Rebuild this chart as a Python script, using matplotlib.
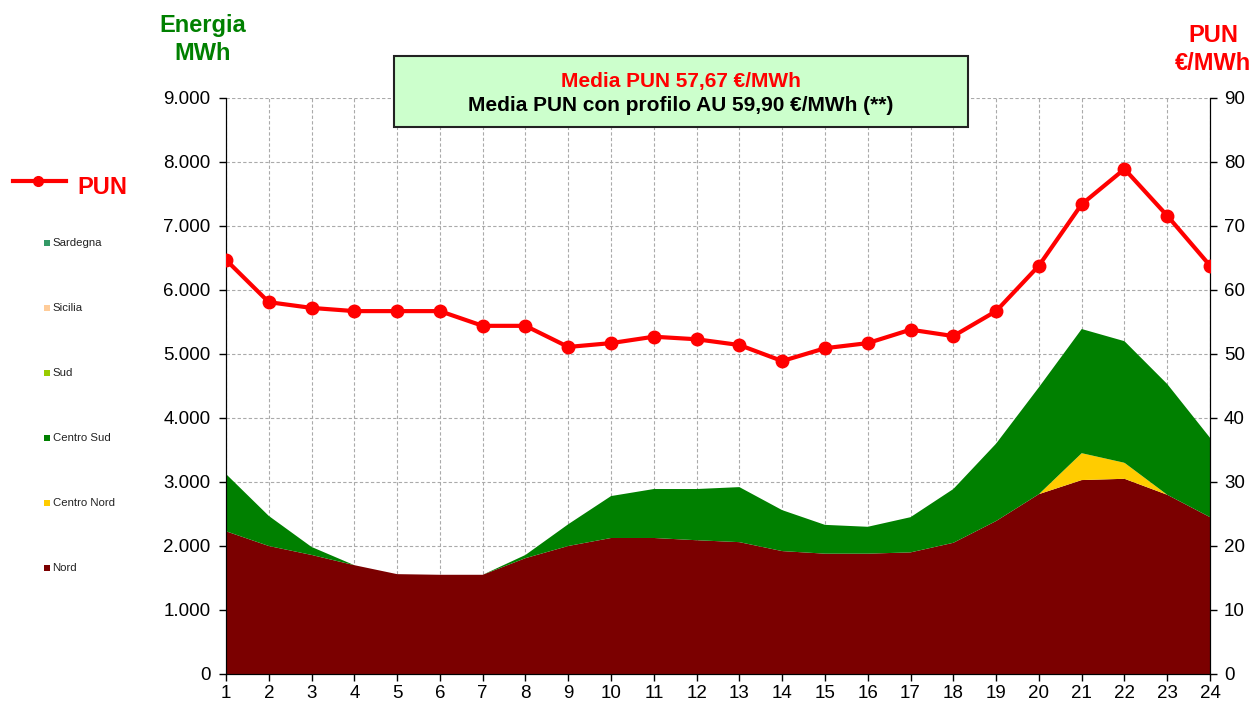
import matplotlib.pyplot as plt
from matplotlib.patches import Rectangle
from matplotlib.lines import Line2D
from matplotlib.ticker import FuncFormatter

plt.rcParams['font.family'] = ['Liberation Sans', 'DejaVu Sans']

# Dati: ore e energia per zona (MWh), PUN (€/MWh)
ore = list(range(1, 25))
nord = [2230, 2000, 1860, 1700, 1560, 1550, 1550, 1810, 2000, 2125, 2125, 2090,
        2060, 1920, 1880, 1880, 1900, 2050, 2390, 2810, 3030, 3050, 2800, 2450]
centro_nord = [0, 0, 0, 0, 0, 0, 0, 0, 0, 0, 0, 0,
               0, 0, 0, 0, 0, 0, 0, 0, 420, 250, 0, 0]
centro_sud = [895, 470, 125, 0, 0, 0, 0, 50, 340, 655, 765, 800,
              860, 640, 450, 420, 550, 840, 1210, 1670, 1940, 1900, 1730, 1240]
sud = [0] * 24
sicilia = [0] * 24
sardegna = [0] * 24
pun = [64.7, 58.1, 57.2, 56.7, 56.7, 56.7, 54.4, 54.4, 51.1, 51.7, 52.7, 52.3,
       51.4, 48.9, 50.9, 51.7, 53.8, 52.8, 56.7, 63.8, 73.4, 78.9, 71.6, 63.8]

zone = ['Nord', 'Centro Nord', 'Centro Sud', 'Sud', 'Sicilia', 'Sardegna']
colori = ['#7B0000', '#FFCC00', '#008000', '#99CC00', '#FFCC99', '#339966']

fig = plt.figure(figsize=(12.52, 7.05), dpi=100)
ax = fig.add_axes([0.1805, 0.044, 0.786, 0.817])

ax.stackplot(ore, nord, centro_nord, centro_sud, sud, sicilia, sardegna,
             colors=colori, zorder=2)
ax.set_xlim(1, 24)
ax.set_ylim(0, 9000)
ax.set_xticks(ore)
ax.set_yticks(range(0, 9001, 1000))
ax.yaxis.set_major_formatter(FuncFormatter(lambda v, p: f'{int(v):,}'.replace(',', '.')))
ax.grid(True, color='#AAAAAA', linestyle=(0, (3, 2)), linewidth=0.8, zorder=0)
ax.set_axisbelow(True)
ax.spines['top'].set_visible(False)
ax.tick_params(axis='both', labelsize=13.5, direction='out', length=5, width=1)
ax.tick_params(axis='y', pad=6)
ax.tick_params(axis='x', pad=3)

ax2 = ax.twinx()
ax2.plot(ore, pun, color='#FF0000', linewidth=3, marker='o', markersize=9, zorder=5)
ax2.set_ylim(0, 90)
ax2.set_yticks(range(0, 91, 10))
ax2.spines['top'].set_visible(False)
ax2.tick_params(axis='y', labelsize=13.5, direction='out', length=5, width=1, pad=5)

# Titoli assi
fig.text(0.162, 0.944, 'Energia\nMWh', color='#008000', fontsize=17, fontweight='bold',
         ha='center', va='center', linespacing=1.25)
fig.text(0.969, 0.930, 'PUN\n€/MWh', color='#FF0000', fontsize=17, fontweight='bold',
         ha='center', va='center', linespacing=1.25)

# Riquadro media
fig.patches.append(Rectangle((0.3147, 0.820), 0.4585, 0.1007, transform=fig.transFigure,
                             facecolor='#CCFFCC', edgecolor='#222222', linewidth=1.5))
fig.text(0.544, 0.885, 'Media PUN 57,67 €/MWh', color='#FF0000', fontsize=15,
         fontweight='bold', ha='center', va='center')
fig.text(0.544, 0.850, 'Media PUN con profilo AU 59,90 €/MWh (**)', color='black',
         fontsize=15, fontweight='bold', ha='center', va='center')

# Legenda
fig.lines.append(Line2D([0.010, 0.030, 0.053], [0.743, 0.743, 0.743],
                        transform=fig.transFigure, color='#FF0000', linewidth=3,
                        marker='o', markersize=7, markevery=[1]))
fig.text(0.062, 0.734, 'PUN', color='#FF0000', fontsize=17, fontweight='bold',
         ha='left', va='center')
for i, (nome, col) in enumerate(zip(zone, colori)):
    y = (705 - 568 + i * 65) / 705
    fig.patches.append(Rectangle((0.0352, y - 0.0045), 0.0050, 0.0090,
                                 transform=fig.transFigure, facecolor=col,
                                 edgecolor='none'))
    fig.text(0.0420, y, nome, fontsize=8.2, color='#222222', ha='left', va='center')

plt.savefig('out.png', dpi=100)
